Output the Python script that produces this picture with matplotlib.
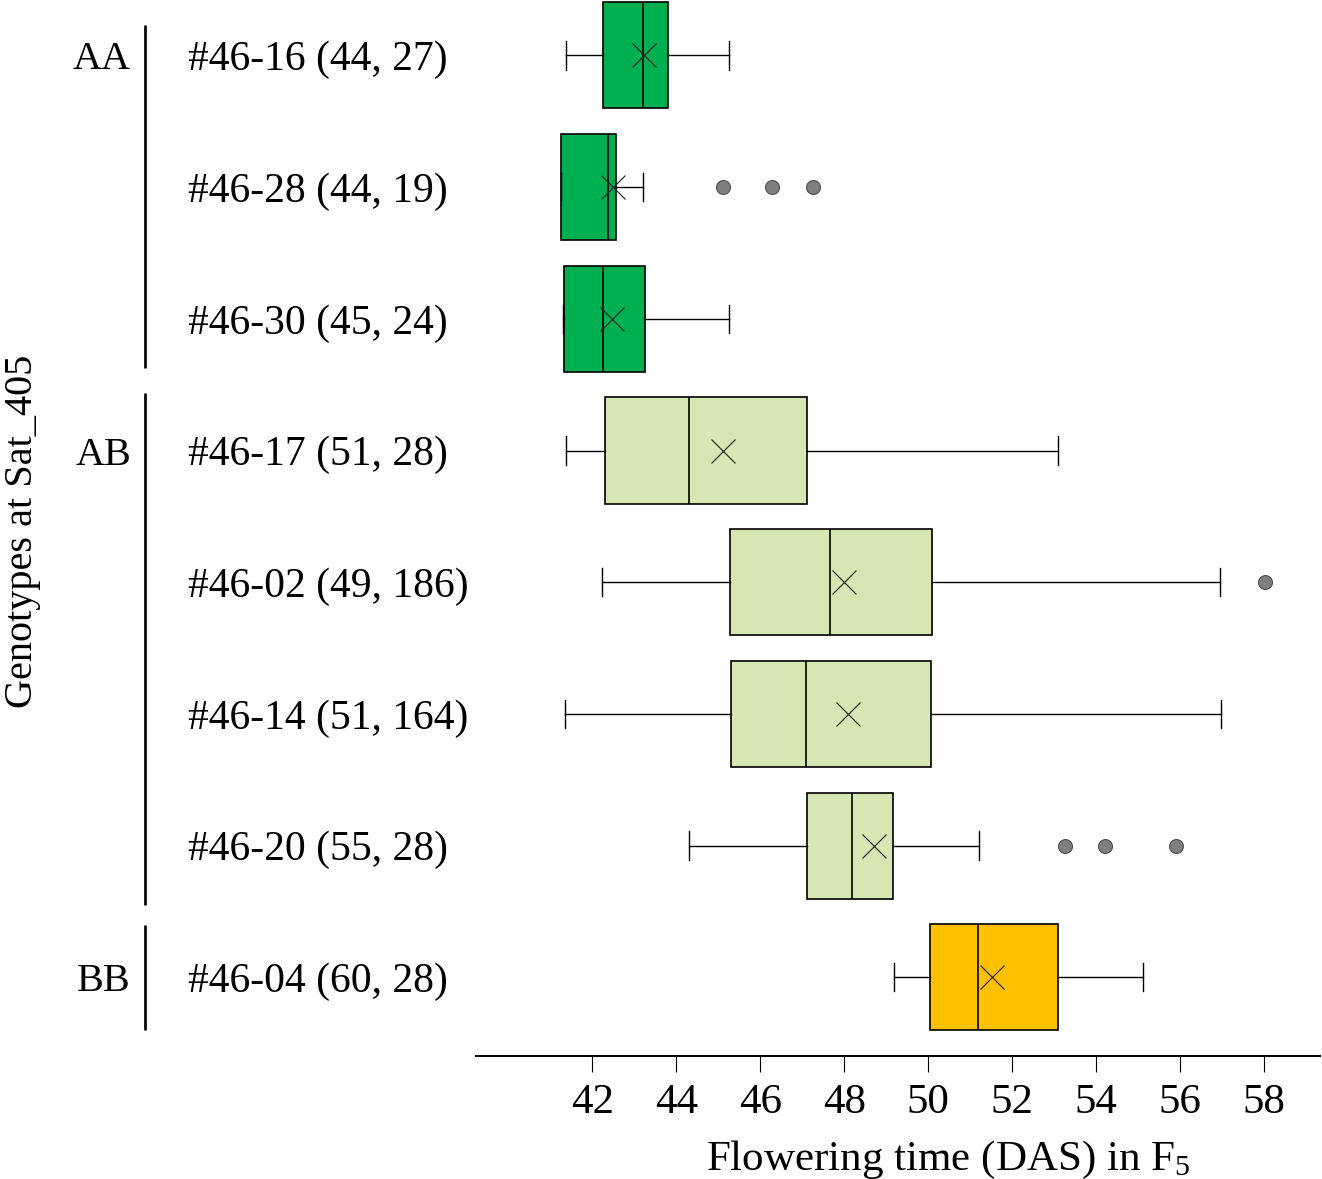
import matplotlib
matplotlib.use("Agg")
import matplotlib.pyplot as plt
import numpy as np
from matplotlib.transforms import blended_transform_factory

plt.rcParams['font.family'] = ['Liberation Serif', 'DejaVu Serif']
plt.rcParams['mathtext.default'] = 'regular'

# ---------------- data ----------------
lines = ["#46-16", "#46-28", "#46-30", "#46-17", "#46-02", "#46-14", "#46-20", "#46-04"]
count_a = [44, 44, 45, 51, 49, 51, 55, 60]
count_b = [27, 19, 24, 28, 186, 164, 28, 28]
genotype = ["AA", "AA", "AA", "AB", "AB", "AB", "AB", "BB"]

whislo = [41.37, 41.26, 41.29, 41.36, 42.24, 41.34, 44.29, 49.19]
q1     = [42.26, 41.26, 41.33, 42.29, 45.27, 45.29, 47.10, 50.05]
median = [43.21, 42.37, 42.26, 44.31, 47.65, 47.09, 48.19, 51.19]
q3     = [43.81, 42.56, 43.25, 47.10, 50.10, 50.06, 49.17, 53.08]
whishi = [45.25, 43.21, 45.25, 53.10, 56.96, 56.98, 51.20, 55.12]
means  = [43.23, 42.50, 42.46, 45.12, 47.99, 48.08, 48.71, 51.52]
outliers = [[], [45.10, 46.27, 47.25], [], [], [58.01], [], [53.26, 54.21, 55.91], []]

xticks = [42, 44, 46, 48, 50, 52, 54, 56, 58]
group_names = ["AA", "AB", "BB"]
colors = {"AA": "#00B050", "AB": "#D7E7B3", "BB": "#FFC000"}

# ---------------- figure ----------------
W, H = 1322, 1179
fig = plt.figure(figsize=(W / 100, H / 100), dpi=100)
ax_l, ax_r, ax_b = 476.5, 1320.0, 1056.0
ax = fig.add_axes([ax_l / W, 1 - ax_b / H, (ax_r - ax_l) / W, ax_b / H])

pos = np.arange(len(lines))
stats = []
for i in range(len(lines)):
    stats.append(dict(whislo=whislo[i], q1=q1[i], med=median[i], q3=q3[i],
                      whishi=whishi[i], mean=means[i],
                      fliers=np.array(outliers[i], dtype=float)))

bp = ax.bxp(stats, positions=pos, widths=0.805, orientation='horizontal',
            showmeans=True, meanline=False, patch_artist=True, capwidths=0.215,
            boxprops=dict(edgecolor='black', linewidth=1.2),
            medianprops=dict(color='black', linewidth=1.2),
            whiskerprops=dict(color='black', linewidth=1.0),
            capprops=dict(color='black', linewidth=1.0),
            meanprops=dict(marker='x', markersize=17, markeredgecolor='#262626',
                           markeredgewidth=0.85),
            flierprops=dict(marker='o', markersize=10, markerfacecolor='#7f7f7f',
                            markeredgecolor='#4d4d4d', markeredgewidth=0.8))
for patch, g in zip(bp['boxes'], genotype):
    patch.set_facecolor(colors[g])

ax.set_xlim(39.24, 59.33)
ax.set_ylim(7.598, -0.421)
ax.set_xticks(xticks)
ax.tick_params(axis='x', length=11.5, width=0.8, direction='out', labelsize=31,
               pad=8, color='black')

row_labels = [f"{l} ({a}, {b})" for l, a, b in zip(lines, count_a, count_b)]
ax.set_yticks(pos, labels=row_labels)
ax.tick_params(axis='y', length=0, pad=(ax_l - 188) * 0.72, labelsize=30)
for t in ax.get_yticklabels():
    t.set_horizontalalignment('left')

for s in ['left', 'top', 'right']:
    ax.spines[s].set_visible(False)
ax.spines['bottom'].set_linewidth(1.4)

# group brackets and labels
trans = blended_transform_factory(fig.transFigure, ax.transData)
bracket_ext = {"AA": (-0.23, 0.37), "AB": (-0.44, 0.45), "BB": (-0.40, 0.40)}
for g in group_names:
    idx = [i for i, gg in enumerate(genotype) if gg == g]
    y0 = idx[0] + bracket_ext[g][0]
    y1 = idx[-1] + bracket_ext[g][1]
    ax.plot([145 / W, 145 / W], [y0, y1], transform=trans, color='black',
            linewidth=1.95, clip_on=False, solid_capstyle='butt')
    ax.text(131 / W, idx[0], g, transform=trans, ha='right', va='center_baseline',
            fontsize=29)

ax.set_xlabel('Flowering time (DAS) in F$_5$', fontsize=31)
ax.xaxis.set_label_coords((948 - ax_l) / (ax_r - ax_l), (ax_b - 1139) / ax_b)
ax.set_ylabel('Genotypes at Sat_405', fontsize=29, va='center')
ax.yaxis.set_label_coords((22 - ax_l) / (ax_r - ax_l), 1 - 531 / ax_b)

fig.savefig('out.png', dpi=100)
